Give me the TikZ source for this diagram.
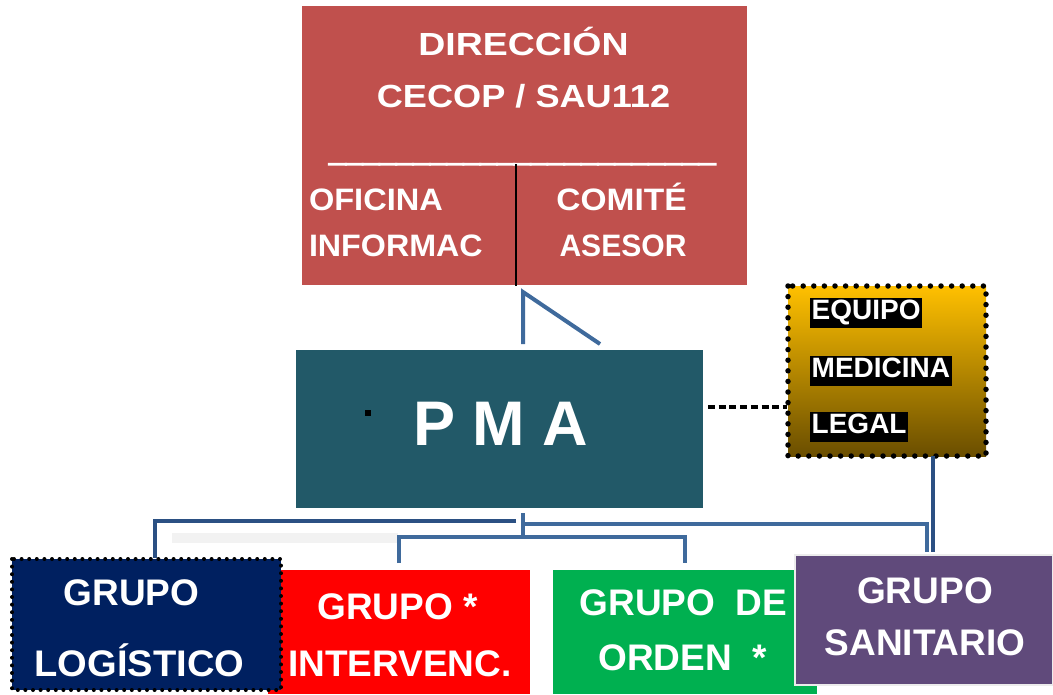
\documentclass[tikz,border=0pt]{standalone}
\usepackage{fontspec}
\setmainfont{Liberation Sans}
\newfontfamily\ulfont{Liberation Sans Bold}[FakeBold=5]
\definecolor{dirred}{HTML}{C0504D}
\definecolor{pmateal}{HTML}{225968}
\definecolor{conblue}{HTML}{3F6A9C}
\definecolor{condark}{HTML}{2B5083}
\definecolor{eqgold}{HTML}{FFC000}
\definecolor{eqolive}{HTML}{6A4E00}
\definecolor{lognavy}{HTML}{002060}
\definecolor{grpred}{HTML}{FF0000}
\definecolor{grpgreen}{HTML}{00B050}
\definecolor{grppurple}{HTML}{604A7B}
\definecolor{bargray}{HTML}{F2F2F2}
\begin{document}
\begin{tikzpicture}[x=1pt,y=-1pt,
  box/.style={draw=none,inner sep=0pt,outer sep=0pt,anchor=north west},
  lbl/.style={text=white,inner sep=0pt,outer sep=0pt},
  toptxt/.style={lbl,font=\fontsize{32}{38}\selectfont\bfseries},
  subtxt/.style={lbl,font=\fontsize{31}{37}\selectfont\bfseries},
  grptxt/.style={lbl,font=\fontsize{37}{44}\selectfont\bfseries,anchor=base},
  eqtxt/.style={text=white,fill=black,font=\fontsize{28}{33}\selectfont\bfseries,
    inner xsep=1.5pt,inner ysep=0pt,text height=21pt,text depth=8.5pt,anchor=base west},
  conn/.style={draw=conblue,line width=4pt,line join=miter},
  conndark/.style={draw=condark,line width=4pt,line join=miter},
]
\useasboundingbox (0,0) rectangle (1053,694);

% ---------- top box ----------
\node[box,fill=dirred,minimum width=445pt,minimum height=279pt] (dir) at (302,6) {};
\node[toptxt,anchor=base] (t1) at (523.5,55) {\scalebox{1.17}[1]{DIRECCIÓN}};
\node[toptxt,anchor=base] (t2) at (523.5,107) {\scalebox{1.13}[1]{CECOP / SAU112}};
\node[lbl,anchor=base west,font=\fontsize{31}{37}\ulfont] (t3) at (329,161) {\scalebox{0.975}[1]{\_\_\_\_\_\_\_\_\_\_\_\_\_\_\_\_\_\_\_\_\_\_\_}};
\node[subtxt,anchor=base west] (t4) at (309,210) {\scalebox{1.05}[1]{OFICINA}};
\node[subtxt,anchor=base west] (t5) at (309,256) {\scalebox{1.04}[1]{INFORMAC}};
\node[subtxt,anchor=base] (t6) at (621.5,210) {\scalebox{1.08}[1]{COMITÉ}};
\node[subtxt,anchor=base] (t7) at (623,256) {\scalebox{0.97}[1]{ASESOR}};
\coordinate (dv1) at (516,164);
\coordinate (dv2) at (516,286);
\draw[black,line width=1.8pt] (dv1) -- (dv2);

% ---------- PMA ----------
\node[box,fill=pmateal,minimum width=407pt,minimum height=158pt] (pma) at (296,350) {};
\node[lbl,anchor=base,font=\fontsize{63}{70}\selectfont\bfseries] (pmat) at (500.5,445) {P M A};
\node[fill=black,inner sep=0pt,minimum size=6pt] (dot) at (368,413) {};

% connector direccion -> PMA
\coordinate (ua) at (523,344);
\coordinate (ub) at (523,292);
\coordinate (uc) at (600,344);
\draw[conn] (ua) -- (ub) -- (uc);

% ---------- Equipo medicina legal ----------
\path[top color=eqgold,bottom color=eqolive] (788,286) rectangle (986,456);
\node[box,minimum width=198pt,minimum height=170pt] (eq) at (788,286) {};
\draw[black,line width=5.5pt,line cap=round,dash pattern=on 0pt off 10.6pt] (eq.north west) rectangle (eq.south east);
\node[eqtxt] (e1) at (810,319) {EQUIPO};
\node[eqtxt] (e2) at (810,377) {MEDICINA};
\node[eqtxt] (e3) at (810,433) {LEGAL};
\coordinate (dl1) at (708,407);
\coordinate (dl2) at (787,407);
\draw[black,line width=4.2pt,dash pattern=on 7pt off 3.7pt] (dl1) -- (dl2);

% ---------- bottom boxes ----------
\node[box,fill=grpred,minimum width=262pt,minimum height=124pt] (int) at (268,570) {};
\node[box,fill=lognavy,minimum width=269pt,minimum height=131pt] (log) at (12,559) {};
\draw[black,line width=4pt,line cap=round,dash pattern=on 0pt off 7.6pt] (log.north west) rectangle (log.south east);
\node[box,fill=grpgreen,minimum width=264pt,minimum height=124pt] (ord) at (553,570) {};
\node[box,fill=grppurple,minimum width=258pt,minimum height=130pt] (san) at (795,555) {};
\draw[white!85!gray,line width=1.5pt] (san.north west) rectangle (san.south east);

\node[grptxt] (l1) at (131.5,605) {GRUPO};
\node[grptxt] (l2) at (139.5,676) {\scalebox{1.03}[1]{LOGÍSTICO}};
\node[grptxt] (i1) at (397.5,619) {GRUPO *};
\node[grptxt] (i2) at (400,676) {INTERVENC.};
\node[grptxt] (o1) at (683.5,615) {GRUPO\ \ DE};
\node[grptxt] (o2) at (682.5,670) {ORDEN\ \ *};
\node[grptxt] (s1) at (925,603) {GRUPO};
\node[grptxt] (s2) at (925,655) {SANITARIO};

% ---------- tree connectors ----------
\fill[bargray] (172,533) rectangle (398,543);
\coordinate (p0) at (523,513);
\coordinate (p1) at (523,537);
\draw[conn] (p0) -- (p1);
\coordinate (r0) at (523,524);
\coordinate (r1) at (927,524);
\coordinate (r2) at (927,552);
\draw[conn] (r0) -- (r1) -- (r2);
\coordinate (q0) at (516,521);
\coordinate (q1) at (155,521);
\coordinate (q2) at (155,558);
\draw[conndark] (q0) -- (q1) -- (q2);
\coordinate (m0) at (399,563);
\coordinate (m1) at (399,537);
\coordinate (m2) at (685,537);
\coordinate (m3) at (685,563);
\draw[conn] (m0) -- (m1) -- (m2) -- (m3);
\coordinate (k0) at (933,456);
\coordinate (k1) at (933,552);
\draw[conndark] (k0) -- (k1);
\end{tikzpicture}
\end{document}
